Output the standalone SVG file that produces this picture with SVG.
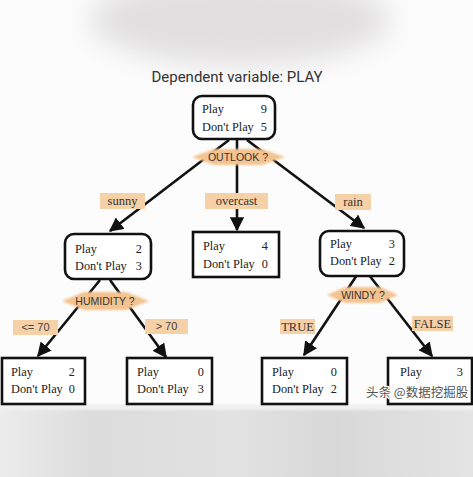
<svg xmlns="http://www.w3.org/2000/svg" width="473" height="477" viewBox="0 0 473 477">
<defs>
<style>
.box{fill:#fff;stroke:#111;stroke-width:2.6}
.t{font-family:"Liberation Serif","Times New Roman",serif;font-size:12.3px;fill:#222}
.lbl{font-family:"Liberation Serif","Times New Roman",serif;font-size:12.5px;fill:#333;text-anchor:middle}
.lbls{font-family:"Liberation Sans",Arial,sans-serif;font-size:11px;fill:#444;text-anchor:middle}
.dtx{font-family:"Liberation Sans",Arial,sans-serif;font-size:10.5px;fill:#333;text-anchor:middle}
.tag{fill:#f6d0a6}
.dia{fill:#f4c38f;filter:url(#soft)}
.edge{stroke:#111;stroke-width:2.6;fill:none;marker-end:url(#arr)}
</style>
<marker id="arr" viewBox="0 0 10 10" refX="9" refY="5" markerWidth="5.5" markerHeight="5.5" orient="auto" markerUnits="strokeWidth">
<path d="M0,0 L10,5 L0,10 z" fill="#111"/>
</marker>
<filter id="soft" x="-20%" y="-50%" width="140%" height="200%"><feGaussianBlur stdDeviation="1"/></filter>
<filter id="blur" x="-20%" y="-100%" width="140%" height="300%"><feGaussianBlur stdDeviation="14"/></filter>
<linearGradient id="bot" x1="0" y1="0" x2="1" y2="0">
<stop offset="0" stop-color="#ececec"/><stop offset="0.2" stop-color="#dcdcdc"/><stop offset="0.5" stop-color="#e2e2e2"/><stop offset="0.7" stop-color="#d8d8d8"/><stop offset="1" stop-color="#e4e4e4"/>
</linearGradient>
</defs>
<rect width="473" height="477" fill="#fcfcfc"/>
<ellipse cx="240" cy="20" rx="150" ry="45" fill="#e1dfdf" filter="url(#blur)"/>
<rect x="0" y="406" width="473" height="71" fill="url(#bot)"/>
<rect x="0" y="404" width="473" height="6" fill="#f0f0f0" filter="url(#soft)"/>

<text x="237" y="82" text-anchor="middle" font-family="Roboto,'Liberation Sans',sans-serif" font-size="15" fill="#333">Dependent variable: PLAY</text>

<g id="connectors">
<line class="edge" x1="229" y1="140" x2="110" y2="231"/>
<line class="edge" x1="237" y1="140" x2="237" y2="230"/>
<line class="edge" x1="247" y1="140" x2="364" y2="228"/>
<line class="edge" x1="100" y1="280" x2="38" y2="356"/>
<line class="edge" x1="110" y1="280" x2="166" y2="357"/>
<line class="edge" x1="357" y1="275" x2="304" y2="355"/>
<line class="edge" x1="369" y1="275" x2="432" y2="356"/>
<rect class="tag" x="100" y="193" width="45" height="16"/>
<text class="lbl" x="122.5" y="205">sunny</text>
<rect class="tag" x="205" y="193" width="63" height="16"/>
<text class="lbl" x="236.5" y="205">overcast</text>
<rect class="tag" x="335" y="194" width="36" height="16"/>
<text class="lbl" x="353" y="206">rain</text>
<rect class="tag" x="13" y="320" width="45" height="15"/>
<text class="lbls" x="35.5" y="331">&lt;= 70</text>
<rect class="tag" x="145" y="319" width="43" height="15"/>
<text class="lbls" x="166.5" y="330">&gt; 70</text>
<rect class="tag" x="280" y="319" width="35" height="15"/>
<text class="lbl" x="297.5" y="331">TRUE</text>
<rect class="tag" x="412" y="316" width="41" height="15"/>
<text class="lbl" x="432.5" y="328">FALSE</text>
</g>

<g id="root">
<rect class="box" x="193" y="96" width="82" height="43" rx="9"/>
<text class="t" x="202" y="113">Play</text><text class="t" x="267" y="113" text-anchor="end">9</text>
<text class="t" x="202" y="131">Don't Play</text><text class="t" x="267" y="131" text-anchor="end">5</text>
</g>
<g id="outlook">
<polygon class="dia" points="192,157 214,149 262,149 285,157 262,165 214,165"/>
<text class="dtx" x="238" y="161">OUTLOOK ?</text>
</g>

<g id="sunny">
<rect class="box" x="65" y="234" width="86" height="45" rx="9"/>
<text class="t" x="75" y="253">Play</text><text class="t" x="142" y="253" text-anchor="end">2</text>
<text class="t" x="75" y="270">Don't Play</text><text class="t" x="142" y="270" text-anchor="end">3</text>
</g>
<g id="humidity">
<polygon class="dia" points="62,301 84,292 126,292 149,301 126,310 84,310"/>
<text class="dtx" x="105" y="305">HUMIDITY ?</text>
</g>

<g id="overcast">
<rect class="box" x="193" y="232" width="86" height="45"/>
<text class="t" x="203" y="250">Play</text><text class="t" x="268" y="250" text-anchor="end">4</text>
<text class="t" x="203" y="268">Don't Play</text><text class="t" x="268" y="268" text-anchor="end">0</text>
</g>

<g id="rain">
<rect class="box" x="320" y="231" width="84" height="45" rx="9"/>
<text class="t" x="330" y="248">Play</text><text class="t" x="395" y="248" text-anchor="end">3</text>
<text class="t" x="330" y="265">Don't Play</text><text class="t" x="395" y="265" text-anchor="end">2</text>
</g>
<g id="windy">
<polygon class="dia" points="327,295 345,287 380,287 398,295 380,303 345,303"/>
<text class="dtx" x="363" y="299">WINDY ?</text>
</g>

<g id="leaf-le70">
<rect class="box" x="2" y="358" width="83" height="46"/>
<text class="t" x="11" y="376">Play</text><text class="t" x="75" y="376" text-anchor="end">2</text>
<text class="t" x="11" y="393">Don't Play</text><text class="t" x="75" y="393" text-anchor="end">0</text>
</g>
<g id="leaf-gt70">
<rect class="box" x="127" y="358" width="85" height="46"/>
<text class="t" x="137" y="376">Play</text><text class="t" x="204" y="376" text-anchor="end">0</text>
<text class="t" x="137" y="393">Don't Play</text><text class="t" x="204" y="393" text-anchor="end">3</text>
</g>
<g id="leaf-true">
<rect class="box" x="262" y="358" width="85" height="46"/>
<text class="t" x="272" y="376">Play</text><text class="t" x="337" y="376" text-anchor="end">0</text>
<text class="t" x="272" y="393">Don't Play</text><text class="t" x="337" y="393" text-anchor="end">2</text>
</g>
<g id="leaf-false">
<rect class="box" x="388" y="358" width="84" height="46"/>
<text class="t" x="400" y="376">Play</text><text class="t" x="463" y="376" text-anchor="end">3</text>
</g>

<text x="366" y="397" font-family="'Noto Sans CJK SC',sans-serif" font-size="12.5" fill="#555" stroke="#fff" stroke-width="2.5" paint-order="stroke">头条 @数据挖掘股</text>
</svg>
